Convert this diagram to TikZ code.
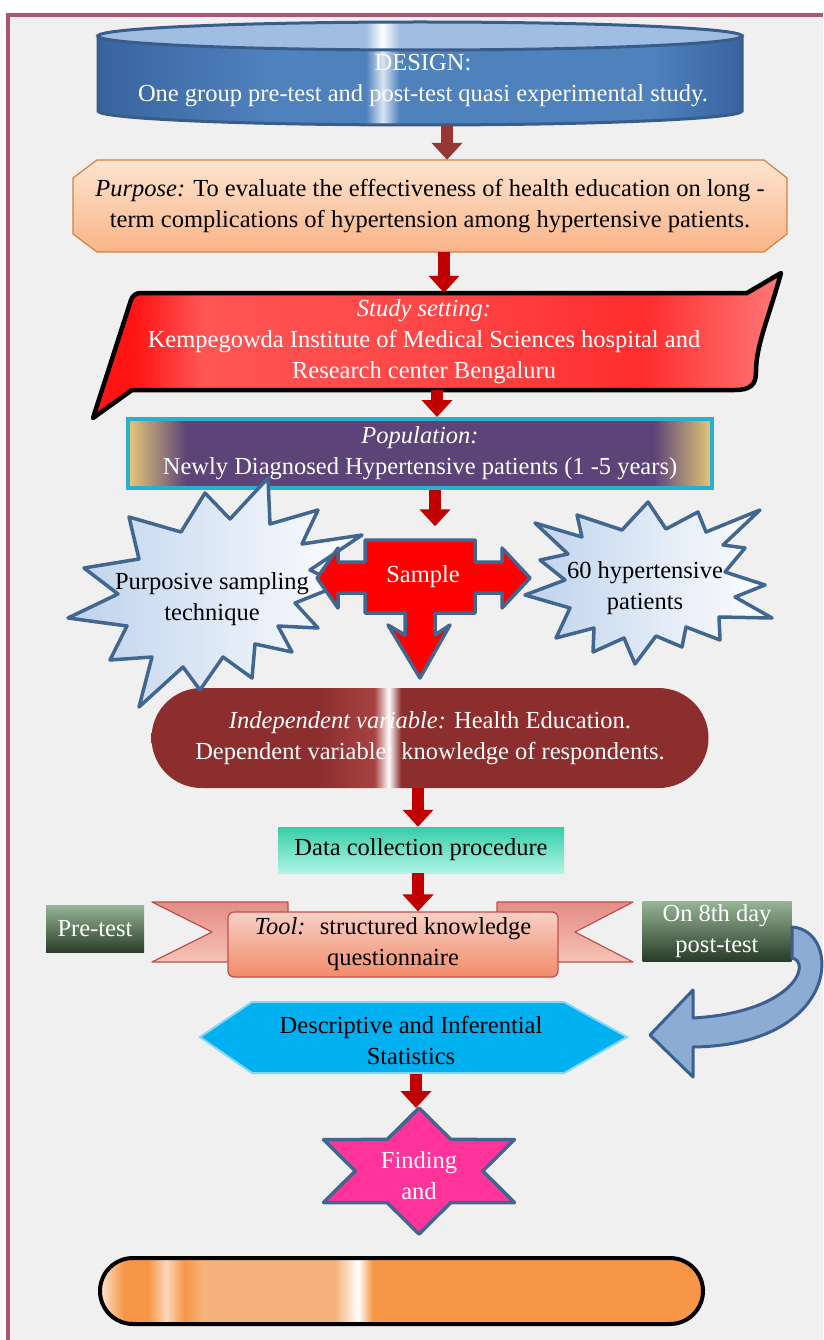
\documentclass[tikz,border=0pt]{standalone}
\usepackage{fontspec}
\setmainfont{Liberation Serif}
\usetikzlibrary{arrows.meta}

\definecolor{framec}{RGB}{170,85,115}
\definecolor{bgc}{RGB}{240,240,240}
\definecolor{cylblue}{RGB}{79,129,189}
\definecolor{cyldark}{RGB}{56,100,158}
\definecolor{cyllight}{RGB}{160,190,225}
\definecolor{cylline}{RGB}{56,93,138}
\definecolor{purptop}{RGB}{253,228,208}
\definecolor{purpbot}{RGB}{249,180,135}
\definecolor{purpline}{RGB}{205,130,70}
\definecolor{arrdark}{RGB}{150,55,53}
\definecolor{arrred}{RGB}{192,0,0}
\definecolor{wredA}{RGB}{255,20,20}
\definecolor{wredB}{RGB}{255,85,85}
\definecolor{wredC}{RGB}{255,70,70}
\definecolor{wredD}{RGB}{255,45,45}
\definecolor{wredE}{RGB}{255,120,120}
\definecolor{popgold}{RGB}{230,200,120}
\definecolor{poppurple}{RGB}{92,68,120}
\definecolor{popline}{RGB}{40,176,204}
\definecolor{samplered}{RGB}{255,0,0}
\definecolor{bluec}{RGB}{65,102,143}
\definecolor{burstblue}{RGB}{190,210,236}
\definecolor{varred}{RGB}{140,46,46}
\definecolor{varlight}{RGB}{168,66,66}
\definecolor{datatop}{RGB}{55,205,170}
\definecolor{databot}{RGB}{175,245,228}
\definecolor{boxtop}{RGB}{150,180,150}
\definecolor{boxbot}{RGB}{40,60,40}
\definecolor{ribline}{RGB}{192,80,77}
\definecolor{ribtop}{RGB}{247,208,198}
\definecolor{ribbot}{RGB}{242,140,105}
\definecolor{wingtop}{RGB}{228,140,135}
\definecolor{wingbot}{RGB}{245,195,180}
\definecolor{statcyan}{RGB}{0,176,240}
\definecolor{statline}{RGB}{130,215,245}
\definecolor{curvfill}{RGB}{140,172,212}
\definecolor{curvline}{RGB}{60,95,145}
\definecolor{starpink}{RGB}{255,51,153}
\definecolor{barorange}{RGB}{247,150,70}
\definecolor{barlight}{RGB}{245,178,122}

\pgfdeclarehorizontalshading{cylshade}{100bp}{color(0bp)=(cyldark); color(25bp)=(cyldark); color(38bp)=(cylblue); color(45.8bp)=(cylblue); color(47.1bp)=(cyllight!40!white); color(48.4bp)=(cylblue); color(68bp)=(cylblue); color(75bp)=(cyldark); color(100bp)=(cyldark)}
\pgfdeclarehorizontalshading{cyltopshade}{100bp}{color(0bp)=(cyllight); color(45.8bp)=(cyllight); color(47.1bp)=(white); color(48.4bp)=(cyllight); color(100bp)=(cyllight)}
\pgfdeclarehorizontalshading{studyshade}{100bp}{color(0bp)=(wredA); color(28bp)=(wredA); color(33bp)=(wredB); color(50bp)=(wredC); color(65bp)=(wredD); color(75bp)=(wredE); color(100bp)=(wredE)}
\pgfdeclarehorizontalshading{popshade}{100bp}{color(0bp)=(popgold); color(25bp)=(popgold); color(30bp)=(poppurple); color(70bp)=(poppurple); color(75bp)=(popgold); color(100bp)=(popgold)}
\pgfdeclarehorizontalshading{varshade}{100bp}{color(0bp)=(varred); color(40bp)=(varred); color(45bp)=(varlight); color(46.3bp)=(white); color(47.4bp)=(varred); color(100bp)=(varred)}
\pgfdeclarehorizontalshading{barshade}{100bp}{color(0bp)=(white); color(25bp)=(barorange!25!white); color(27bp)=(barorange); color(29bp)=(barorange); color(30.5bp)=(barlight!50!white); color(32bp)=(barorange); color(33.5bp)=(barlight); color(44.5bp)=(barlight); color(46.4bp)=(white); color(47.6bp)=(barorange); color(100bp)=(barorange)}

\begin{document}
\begin{tikzpicture}[x=1pt,y=-1pt,
    txt/.style={font=\fontsize{24.5}{31}\selectfont,align=center,inner sep=0pt},
    darkarr/.style={draw=arrdark,line width=12pt,-{Triangle[width=30pt,length=17pt]}},
    redarr/.style={darkarr,draw=arrred},
    blueline/.style={draw=bluec,line width=3.5pt,line join=round},
    burst/.style={blueline,left color=burstblue,right color=white},
    greenbox/.style={txt,white,top color=boxtop,bottom color=boxbot},
    wing/.style={draw=ribline,line width=1.2pt,line join=round,top color=wingtop,bottom color=wingbot}]

\useasboundingbox (0,0) rectangle (823,1340);
\fill[white] (0,0) rectangle (823,1340);
\fill[bgc] (8,15) rectangle (823,1340);
\draw[framec,line width=4pt] (8,1340) -- (8,15) -- (823,15);

%---------------------------------------------------
\path[draw=cylline,line width=3pt,shade,shading=cylshade] (98,36) -- (98,111) arc[start angle=180,end angle=0,x radius=322,y radius=14] -- (742,36) -- cycle;
\path[draw=cylline,line width=3pt,shade,shading=cyltopshade] (420,36) ellipse[x radius=322,y radius=14];
\node[txt,white,minimum width=644pt,minimum height=89pt] (design) at (423,81) {DESIGN:\\One group pre-test and post-test quasi experimental study.};

\path[draw=purpline,line width=1.2pt,top color=purptop,bottom color=purpbot] (97,160) -- (764,160) -- (787,178) -- (787,234) -- (764,252) -- (97,252) -- (73,234) -- (73,178) -- cycle;
\node[txt,minimum width=714pt,minimum height=92pt] (purpose) at (430,206) {\textit{Purpose:} To evaluate the effectiveness of health education on long -\\term complications of hypertension among hypertensive patients.};

%---------------------------------------------------
\path[draw=black,line width=4.5pt,line join=round,shade,shading=studyshade] (93,418) -- (131,300) .. controls (133,295) and (136,293) .. (142,293) -- (747,293) -- (781,273) .. controls (768,320) and (756,345) .. (756,372) .. controls (756,385) and (750,390) .. (735,390) -- (132,390) -- cycle;
\node[txt,white,minimum width=600pt,minimum height=97pt] (study) at (424,341.5) {\textit{Study setting:}\\Kempegowda Institute of Medical Sciences hospital and\\Research center Bengaluru};

\node[txt,white,draw=popline,line width=4pt,shade,shading=popshade,minimum width=584pt,minimum height=69pt] (pop) at (420,453.5) {\textit{Population:}\\Newly Diagnosed Hypertensive patients (1 -5 years)};

\node[txt,white,rounded corners=50pt,shade,shading=varshade,minimum width=557pt,minimum height=100pt] (vars) at (430,738) {\textit{Independent variable:} Health Education.\\Dependent variable: knowledge of respondents.};

%---------------------------------------------------
\path[burst] (268,478) -- (270,524) -- (318,510) -- (302,544) -- (362,535) -- (310,570) -- (340,585) -- (295,603) -- (318,628) -- (278,626) -- (292,652) -- (255,644) -- (252,678) -- (223,657) -- (200,690) -- (183,667) -- (139,707) -- (152,657) -- (110,660) -- (127,626) -- (68,618) -- (118,594) -- (84,568) -- (139,559) -- (129,517) -- (181,532) -- (205,493) -- (230,519) -- cycle;
\node[txt] (purp) at (212,599) {Purposive sampling\\technique};

\path[burst] (535,523) -- (582,537) -- (577,515) -- (622,530) -- (648,502) -- (666,529) -- (698,512) -- (706,532) -- (760,510) -- (723,545) -- (745,548) -- (725,572) -- (765,585) -- (735,597) -- (772,618) -- (719,617) -- (720,640) -- (686,627) -- (682,647) -- (656,636) -- (635,664) -- (624,638) -- (593,652) -- (594,628) -- (556,638) -- (570,608) -- (525,595) -- (565,580) -- (540,560) -- (568,554) -- cycle;
\node[txt] (sixty) at (645,588) {60 hypertensive\\patients};

\path[blueline,fill=samplered] (365,540) -- (475,540) -- (475,562) -- (502,562) -- (502,548) -- (530,578) -- (502,608) -- (502,593) -- (475,593) -- (475,613) -- (435,613) -- (435,635) -- (450,625) -- (420,678) -- (388,625) -- (405,635) -- (405,613) -- (365,613) -- (365,593) -- (338,593) -- (338,608) -- (317,578) -- (338,548) -- (338,562) -- (365,562) -- cycle;
\node[txt,white,minimum width=110pt,minimum height=73pt] (sample) at (423,577) {Sample};

%---------------------------------------------------
\node[txt,top color=datatop,bottom color=databot,minimum width=286pt,minimum height=46pt] (data) at (421,850) {Data collection procedure};

\path[wing] (152,902) -- (288,902) -- (288,962) -- (152,962) -- (212,932) -- cycle;
\path[wing] (633,902) -- (497,902) -- (497,962) -- (633,962) -- (575,932) -- cycle;
\node[txt,draw=ribline,line width=1.2pt,rounded corners=6pt,top color=ribtop,bottom color=ribbot,minimum width=330pt,minimum height=65pt] (tool) at (393,944.5) {\textit{Tool:}~ structured knowledge\\questionnaire};

\node[greenbox,minimum width=98pt,minimum height=47pt] (pre) at (95,929) {Pre-test};
\node[greenbox,minimum width=149pt,minimum height=60pt] (post) at (717,931) {On 8th day\\post-test};

\path[draw=curvline,line width=3pt,line join=round,fill=curvfill] (792,927) .. controls (842,930) and (842,1045) .. (693,1047) -- (693,1077) -- (650,1035) -- (693,990) -- (693,1018) .. controls (795,1012) and (812,962) .. (792,958) -- cycle;

%---------------------------------------------------
\path[draw=statline,line width=2pt,fill=statcyan] (200,1037) -- (252,1002) -- (564,1002) -- (627,1037) -- (564,1073) -- (252,1073) -- cycle;
\node[txt,minimum width=427pt,minimum height=67pt] (stats) at (411,1040) {Descriptive and Inferential\\Statistics};

\begin{scope}[shift={(419,1171)},xscale=1.75]
\path[blueline,fill=starpink] (90:63) -- (60:36.4) -- (30:63) -- (0:36.4) -- (-30:63) -- (-60:36.4) -- (-90:63) -- (-120:36.4) -- (-150:63) -- (180:36.4) -- (150:63) -- (120:36.4) -- cycle;
\end{scope}
\coordinate (findtop) at (419,1108);
\node[txt,white] (find) at (419,1176) {Finding\\and};

\node[draw=black,line width=4pt,rounded corners=33pt,shade,shading=barshade,minimum width=603pt,minimum height=66pt] (bar) at (401.5,1291) {};

%---------------------------------------------------
\draw[darkarr] ([xshift=24pt]design.south) -- ([xshift=24pt]design.south |- purpose.north);
\draw[redarr] ([xshift=14pt]purpose.south) -- ([xshift=14pt]purpose.south |- study.north);
\draw[redarr] ([xshift=13pt]study.south) -- ([xshift=13pt]study.south |- pop.north);
\draw[redarr,shorten >=14pt] ([xshift=15pt]pop.south) -- ([xshift=15pt]pop.south |- sample.north);
\draw[redarr] ([xshift=-12pt]vars.south) -- ([xshift=-12pt]vars.south |- data.north);
\draw[redarr] ([xshift=-3pt]data.south) -- ([xshift=-3pt]data.south |- tool.north);
\draw[redarr] ([xshift=5pt]stats.south) -- ([xshift=5pt]stats.south |- findtop);
\end{tikzpicture}
\end{document}
